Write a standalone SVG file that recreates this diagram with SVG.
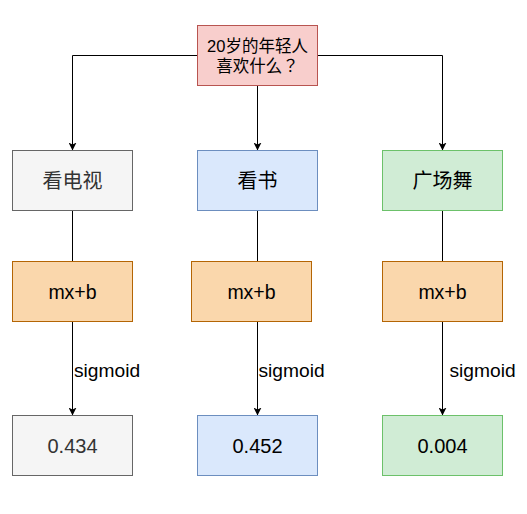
<svg xmlns="http://www.w3.org/2000/svg" width="527" height="514" viewBox="0 0 527 514">
<defs>
<style>
.t{font-family:"Liberation Sans","Noto Sans CJK SC",Arial,sans-serif;text-anchor:middle;dominant-baseline:central;fill:#000}
.q{font-family:"Liberation Sans","Noto Sans CJK JP",sans-serif}
.cjk{font-size:20px}
.num{font-size:20px}
.mx{font-size:19.5px}
.lbl{font-family:"Liberation Sans",Arial,sans-serif;font-size:19.2px;fill:#000}
.ln{fill:none;stroke:#000;stroke-width:1}
.gray{fill:#f5f5f5;stroke:#666666}
.blue{fill:#dae8fc;stroke:#6c8ebf}
.green{fill:#d0ecd5;stroke:#6cc16a}
.orange{fill:#fad7ac;stroke:#b46504}
.red{fill:#f8cecc;stroke:#b85450}
</style>
<marker id="arr" viewBox="0 0 8 8" refX="8" refY="4" markerWidth="8" markerHeight="8" markerUnits="userSpaceOnUse" orient="auto">
<path d="M0,0 L8,4 L0,8 L2,4 Z" fill="#000"/>
</marker>
</defs>
<rect width="527" height="514" fill="#fff"/>
<g id="connectors">
<path class="ln" d="M197.5,55.5 H72.5 V150.5" marker-end="url(#arr)"/>
<path class="ln" d="M257.5,85.5 V150.5" marker-end="url(#arr)"/>
<path class="ln" d="M317.5,55.5 H442.5 V150.5" marker-end="url(#arr)"/>
<path class="ln" d="M72.5,210.5 V261.5"/>
<path class="ln" d="M257.5,210.5 V261.5"/>
<path class="ln" d="M442.5,210.5 V261.5"/>
<path class="ln" d="M72.5,321.5 V415.5" marker-end="url(#arr)"/>
<path class="ln" d="M257.5,321.5 V415.5" marker-end="url(#arr)"/>
<path class="ln" d="M442.5,321.5 V415.5" marker-end="url(#arr)"/>
<text class="lbl" x="74" y="377">sigmoid</text>
<text class="lbl" x="258.5" y="377">sigmoid</text>
<text class="lbl" x="449.5" y="377">sigmoid</text>
</g>
<g id="root">
<rect class="red" x="197.5" y="25.5" width="120" height="60"/>
<text class="t q" x="257.5" y="46" font-size="16.5">20岁的年轻人</text>
<text class="t q" x="257.5" y="65.5" font-size="16.5">喜欢什么？</text>
</g>
<g id="tv">
<rect class="gray" x="12.5" y="150.5" width="120" height="60"/>
<text class="t cjk" x="72.5" y="180.5" style="fill:#333333">看电视</text>
</g>
<g id="book">
<rect class="blue" x="197.5" y="150.5" width="120" height="60"/>
<text class="t cjk" x="257.5" y="180.5">看书</text>
</g>
<g id="dance">
<rect class="green" x="382.5" y="150.5" width="120" height="60"/>
<text class="t cjk" x="442.5" y="180.5">广场舞</text>
</g>
<g id="mx1">
<rect class="orange" x="12.5" y="261.5" width="120" height="60"/>
<text class="t mx" x="72.5" y="291.5">mx+b</text>
</g>
<g id="mx2">
<rect class="orange" x="191.5" y="261.5" width="120" height="60"/>
<text class="t mx" x="251.5" y="291.5">mx+b</text>
</g>
<g id="mx3">
<rect class="orange" x="382.5" y="261.5" width="120" height="60"/>
<text class="t mx" x="442.5" y="291.5">mx+b</text>
</g>
<g id="v1">
<rect class="gray" x="12.5" y="415.5" width="120" height="60"/>
<text class="t num" x="72.5" y="445.5" style="fill:#333333">0.434</text>
</g>
<g id="v2">
<rect class="blue" x="197.5" y="415.5" width="120" height="60"/>
<text class="t num" x="257.5" y="445.5">0.452</text>
</g>
<g id="v3">
<rect class="green" x="382.5" y="415.5" width="120" height="60"/>
<text class="t num" x="442.5" y="445.5">0.004</text>
</g>
</svg>
